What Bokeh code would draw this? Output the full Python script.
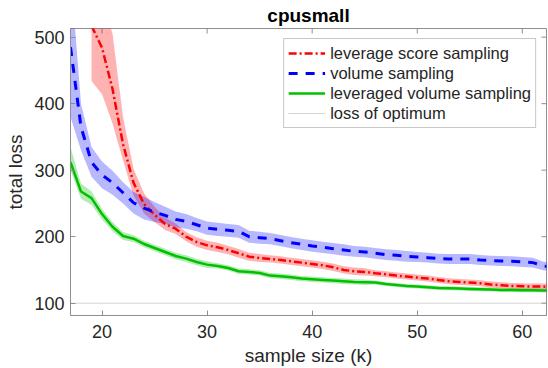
from bokeh.plotting import figure
from bokeh.models import FixedTicker, Range1d
from bokeh.embed import file_html
from bokeh.resources import INLINE

# ---------------- data ----------------
k_full = list(range(17, 64))          # volume / leveraged volume sampling
k_red = list(range(19, 64))           # leverage score sampling

lev_mean = [517, 484, 422, 339, 281, 249, 233, 219, 212, 200, 192, 187, 184, 180,
            175, 170, 168, 166.5, 165, 163, 161, 159, 157, 154, 150, 148, 147, 145,
            143.5, 141.5, 140, 138.5, 137, 135, 133, 132, 131, 130, 128, 127, 126,
            125.5, 125, 125, 124.5]
lev_lo = [434, 414, 370, 315, 262, 235, 222, 210, 204, 193, 185, 180, 177, 173.5,
          168.5, 164, 162, 161, 159.5, 157.5, 155.5, 153.5, 151.5, 148.5, 144.5, 142.5,
          141.5, 140.5, 139, 137, 135.5, 134, 132.5, 130.5, 128.5, 127.5, 126.5, 125.5,
          123.5, 122.5, 121.5, 121, 120.5, 120.5, 120]
lev_hi = [640, 560, 505, 380, 302, 265, 245, 229, 220, 207, 199, 194, 191, 186.5,
          181.5, 176, 174, 172, 170.5, 168.5, 166.5, 164.5, 162.5, 159.5, 155.5, 153.5,
          152.5, 149.5, 148, 146, 144.5, 143, 141.5, 139.5, 137.5, 136.5, 135.5, 134.5,
          132.5, 131.5, 130.5, 130, 129.5, 129.5, 129]

vol_mean = [485, 365, 312, 293, 281, 266, 251, 243, 237, 232, 226, 223, 218, 213,
            211, 209.5, 208, 200, 198.5, 197, 194, 191, 188.5, 186, 184, 182, 180,
            178, 177, 175, 173, 172, 170.5, 169.5, 168.5, 167, 166.5, 166.5, 166.5,
            165, 164, 163.5, 163, 162, 161, 156, 154]
vol_lo = [380, 330, 290, 273, 263, 250, 235, 226, 222, 219, 214, 212, 208, 203,
          201, 200, 198.5, 191, 189.5, 188.5, 185.5, 182.5, 180, 177.5, 175.5, 173.5,
          171.5, 170, 169, 167, 165, 164, 162.5, 162, 161, 159.5, 159, 159, 159, 157.5,
          156.5, 156, 155.5, 154.5, 153.5, 149.5, 147.5]
vol_hi = [600, 400, 335, 313, 299, 282, 267, 260, 252, 245, 238, 234, 228, 223,
          221, 219, 217.5, 209, 207.5, 205.5, 202.5, 199.5, 197, 194.5, 192.5, 190.5,
          188.5, 186, 185, 183, 181, 180, 178.5, 177, 176, 174.5, 174, 174, 174, 172.5,
          171.5, 171, 170.5, 169.5, 168.5, 162.5, 160.5]

levvol_mean = [312, 268, 258, 234, 215, 201, 197, 189, 183, 177, 171, 167, 162, 158,
               156, 153, 148, 147, 145.5, 141.5, 140.5, 139, 137, 136, 135, 134, 133,
               132, 131.5, 131, 129, 127.5, 126, 125, 124, 123, 122.5, 122, 121.5, 121,
               120.5, 120, 120, 119.5, 119.5, 119, 119]
levvol_lo = [300, 257, 248, 226, 208, 195, 192, 184, 178, 172, 166, 162, 157, 153,
             152, 149, 144, 143, 141.5, 137.5, 136.5, 135, 133, 132, 131, 130, 129,
             128, 127.5, 128, 126, 124.5, 123, 122, 121, 120, 119.5, 119, 118.5, 118,
             117.5, 117, 117, 116.5, 116.5, 116, 116]
levvol_hi = [335, 280, 268, 242, 222, 207, 202, 194, 188, 182, 176, 172, 167, 163,
             160, 157, 152, 151, 149.5, 145.5, 144.5, 143, 141, 140, 139, 138, 137,
             136, 135.5, 134, 132, 130.5, 129, 128, 127, 126, 125.5, 125, 124.5, 124,
             123.5, 123, 123, 122.5, 122.5, 122, 122]

optimum_loss = 100

x_ticks = [20, 30, 40, 50, 60]
y_ticks = [100, 200, 300, 400, 500]
x_lim = (17, 62.3)
y_lim = (81.5, 513)

# ---------------- figure ----------------
FONT = "Liberation Sans"
AX = "#8f8f8f"
TXT = "#262626"

p = figure(width=548, height=368, output_backend="svg", toolbar_location=None,
           x_range=Range1d(*x_lim), y_range=Range1d(*y_lim),
           min_border_left=70, min_border_right=2, min_border_top=27,
           min_border_bottom=53, title="cpusmall")
p.xgrid.visible = False
p.ygrid.visible = False
p.outline_line_color = AX
p.background_fill_color = "white"
p.border_fill_color = "white"

p.title.align = "center"
p.title.text_font = FONT
p.title.text_font_size = "19px"
p.title.text_font_style = "bold"
p.title.text_color = "black"
p.title.standoff = 5

for ax in (p.xaxis[0], p.yaxis[0]):
    ax.axis_line_color = AX
    ax.major_tick_line_color = AX
    ax.major_tick_in = 5
    ax.major_tick_out = 0
    ax.minor_tick_in = 0
    ax.minor_tick_out = 0
    ax.major_label_text_font = FONT
    ax.major_label_text_color = TXT
    ax.major_label_text_font_size = "18px"
    ax.axis_label_text_font = FONT
    ax.axis_label_text_font_size = "19px"
    ax.axis_label_text_font_style = "normal"
    ax.axis_label_text_color = TXT

p.xaxis.ticker = FixedTicker(ticks=x_ticks)
p.yaxis.ticker = FixedTicker(ticks=y_ticks)
p.xaxis.major_label_standoff = 9
p.yaxis.major_label_standoff = 6
p.xaxis.axis_label = "sample size (k)"
p.yaxis.axis_label = "total loss"
p.xaxis.axis_label_standoff = 4
p.yaxis.axis_label_standoff = 5

# mirrored inward ticks on the top and right edges (half of each dash is clipped)
p.scatter(x=x_ticks, y=[y_lim[1]] * len(x_ticks), marker="dash", angle=1.5708,
          size=10, line_color=AX, line_width=1)
p.scatter(x=[x_lim[1]] * len(y_ticks), y=y_ticks, marker="dash",
          size=10, line_color=AX, line_width=1)

# ---------------- bands ----------------
p.varea(x=k_red, y1=lev_lo, y2=lev_hi, fill_color="#ff0000", fill_alpha=0.3)
p.varea(x=k_full, y1=vol_lo, y2=vol_hi, fill_color="#0000ff", fill_alpha=0.28)
p.varea(x=k_full, y1=levvol_lo, y2=levvol_hi, fill_color="#00c000", fill_alpha=0.3)

# ---------------- lines ----------------
p.line(x=k_red, y=lev_mean, line_color="#ff0000", line_width=2.5,
       line_dash="8 3 2 3", legend_label="leverage score sampling")
p.line(x=k_full, y=vol_mean, line_color="#0000ff", line_width=3,
       line_dash="9 8", legend_label="volume sampling")
p.line(x=k_full, y=levvol_mean, line_color="#00c000", line_width=2.5,
       legend_label="leveraged volume sampling")
p.line(x=[k_full[0], k_full[-1]], y=[optimum_loss, optimum_loss], line_color="#a8a8a8",
       line_width=1, line_dash="1 1", legend_label="loss of optimum")

lg = p.legend[0]
lg.location = "top_right"
lg.margin = 10
lg.label_text_font = FONT
lg.label_text_font_size = "16.5px"
lg.label_text_color = TXT
lg.glyph_width = 37
lg.glyph_height = 20
lg.label_height = 20
lg.label_standoff = 5
lg.padding = 4
lg.spacing = 0
lg.border_line_color = AX
lg.border_line_width = 1
lg.background_fill_color = "white"
lg.background_fill_alpha = 1.0

open("out.html", "w").write(file_html(p, INLINE))
